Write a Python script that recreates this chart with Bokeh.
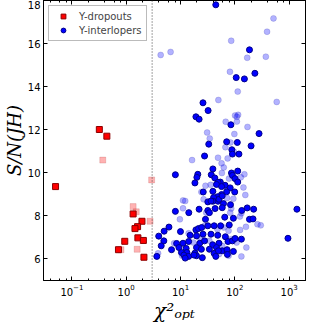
from bokeh.plotting import figure
from bokeh.models import (LinearAxis, LogAxis, FixedTicker, LogTicker, Span,
                          CustomJSTickFormatter)
from bokeh.embed import file_html
from bokeh.resources import INLINE

# ---- data -------------------------------------------------------------
y_ticks = [6, 8, 10, 12, 14, 16, 18]

drop_chi2 = [0.32, 0.44, 0.050, 1.34, 1.95, 1.62, 1.45, 1.64, 2.07, 0.94, 0.72, 2.12]
drop_sn = [12.01, 11.70, 9.36, 8.09, 7.75, 7.50, 7.41, 6.98, 6.86, 6.82, 6.43, 6.08]

drop_faint_chi2 = [0.37, 2.94, 1.34, 1.53, 2.75, 0.80, 1.59]
drop_faint_sn = [10.59, 9.67, 8.43, 8.19, 7.75, 6.43, 6.45]

inter_chi2 = [
    44.6, 186, 234, 106, 150, 25.9, 32.2,
    19.2, 22.0, 84.6, 279, 70.7, 111, 33.1, 199, 88.1, 90.3, 119, 27.7, 8.04,
    39.4, 113, 20.8, 20.0, 36.8, 86.7, 90.3, 101, 42.8, 54.0, 49.0, 45.9, 18.4,
    66.2, 113, 57.0, 82.2, 26.2, 70.7, 99.5, 39.4,
    57.0, 48.4, 40.6, 31.8, 49.0, 83.2, 61.8, 39.4, 134, 169, 222, 1390, 8.04,
    14.2, 22.0, 31.8, 43.3, 34.0, 58.6, 36.4, 51.0, 58.6, 28.8, 65.2, 94.0, 186,
    216, 78.9, 6.12, 4.99, 9.98, 19.2, 21.4, 24.5, 31.8, 41.6, 54.7, 15.0, 19.7,
    25.9, 36.4, 48.4, 67.0, 3.97, 4.93, 8.48, 11.1, 14.1, 22.6, 27.7, 39.0, 51.0,
    74.8, 90.3, 101, 132, 4.41, 6.83, 9.35, 12.7, 19.7, 24.2, 34.0, 45.9, 58.6,
    71.9, 94.0, 10.4, 13.1, 18.4, 41.6, 49.8, 11.5, 14.1, 19.7, 25.2, 44.6, 3.66,
    12.2, 951, 17.7, 72.8,
]
inter_sn = [
    17.80, 15.71, 14.62, 14.42, 14.36, 13.25, 12.89,
    12.60, 12.49, 12.23, 11.82, 11.44, 11.41, 11.33, 11.25, 11.07, 10.87, 10.87, 10.78, 9.91,
    10.18, 10.08, 9.93, 9.79, 9.91, 9.99, 9.88, 9.73, 9.76, 9.57, 9.56, 9.46, 9.53,
    9.42, 9.57, 9.36, 9.30, 9.11, 9.12, 9.11, 9.14,
    8.99, 8.89, 8.85, 8.65, 8.68, 8.52, 8.57, 8.68, 8.25, 8.37, 8.31, 8.31, 8.21,
    8.15, 8.31, 8.25, 8.34, 8.15, 8.38, 8.69, 8.77, 8.93, 7.84, 7.94, 7.89, 7.84,
    7.86, 7.58, 7.48, 7.29, 7.27, 7.35, 7.41, 7.46, 7.54, 7.54, 7.54, 7.10, 7.07,
    7.15, 7.15, 7.10, 7.03, 7.06, 6.84, 6.72, 6.73, 6.81, 6.73, 6.84, 6.66, 6.73,
    6.81, 6.84, 6.95, 6.92, 6.61, 6.43, 6.53, 6.49, 6.53, 6.45, 6.45, 6.53, 6.38,
    6.43, 6.35, 6.30, 6.30, 6.27, 6.26, 6.38, 6.18, 6.12, 6.15, 6.06, 6.12, 6.12,
    6.04, 6.96, 6.18, 6.21,
]

inter_faint_chi2 = [
    515, 392, 85.7, 4.31, 6.56, 169, 372, 81.2, 113, 49.8, 590,
    101, 115, 109, 67.9, 109, 171, 30.9, 34.5, 98.0, 67.0, 83.2, 95.6, 49.0,
    73.7, 16.3, 57.0, 62.5, 57.7, 150, 129, 78.0, 35.9, 28.8, 144, 24.2,
    156, 11.1, 71.9, 26.6, 11.1, 85.7, 94.0, 9.73, 14.1, 7.62, 3.86, 10.7, 132,
    163, 261, 300, 124, 132, 29.7, 62.5, 85.7, 51.0, 76.7, 22.6, 34.0, 17.3,
    58.6, 108, 47.8, 27.7, 76.7, 160, 125, 82.2, 12.2,
]
inter_faint_sn = [
    17.17, 16.55, 16.13, 15.47, 15.61, 15.34, 15.39, 14.69, 13.77, 13.38, 13.29,
    12.66, 12.69, 12.60, 12.37, 12.38, 12.13, 11.87, 11.59, 11.80, 11.19, 11.41, 10.99, 10.70,
    10.67, 10.59, 10.44, 10.25, 9.99, 9.93, 9.79, 9.73, 9.44, 9.40, 9.32, 9.11,
    8.97, 8.72, 8.83, 8.77, 8.35, 8.34, 8.80, 7.84, 7.19, 6.73, 6.26, 6.15, 6.12,
    6.53, 7.61, 7.56, 7.97, 8.12, 8.15, 7.46, 6.92, 6.22, 6.15, 7.00, 6.84, 6.76,
    6.61, 6.76, 7.38, 7.54, 7.31, 7.49, 7.35, 8.15, 8.69,
]

cut_chi2 = 3.0

# ---- figure -----------------------------------------------------------
p = figure(width=308, height=325, x_axis_type="log",
           x_range=(0.03, 2000), y_range=(5, 18),
           output_backend="svg", toolbar_location=None,
           min_border_left=0, min_border_right=3,
           min_border_top=0, min_border_bottom=45)
p.background_fill_color = "white"
p.border_fill_color = "white"
p.outline_line_color = "black"
p.xgrid.grid_line_color = None
p.ygrid.grid_line_color = None

tick_font = "DejaVu Sans"

xa = p.xaxis[0]
xa.ticker = LogTicker()
xa.axis_label = "χ²ₒₚₜ"
xa.axis_label_text_font = "DejaVu Serif"
xa.axis_label_text_font_style = "italic"
xa.axis_label_text_font_size = "20px"
xa.axis_label_standoff = 0
xa.major_label_standoff = 3
ya = p.yaxis[0]
ya.ticker = FixedTicker(ticks=y_ticks)
ya.minor_tick_line_color = None
ya.axis_label = "S/N(JH)"
ya.axis_label_text_font = "DejaVu Serif"
ya.axis_label_text_font_style = "italic"
ya.axis_label_text_font_size = "18px"
ya.axis_label_standoff = 0
ya.major_label_standoff = 3

for ax in (xa, ya):
    ax.major_label_text_font = tick_font
    ax.major_label_text_font_size = "10px"
    ax.major_label_text_color = "black"
    ax.axis_label_text_color = "black"
    ax.major_tick_in = 4
    ax.major_tick_out = 0
    ax.minor_tick_in = 2
    ax.minor_tick_out = 0
    ax.axis_line_color = "black"
    ax.major_tick_line_color = "black"

right = LinearAxis(ticker=FixedTicker(ticks=y_ticks),
                   formatter=CustomJSTickFormatter(code="return ''"),
                   major_label_text_font_size="1px",
                   major_label_standoff=0, major_tick_in=4, major_tick_out=0,
                   minor_tick_line_color=None, axis_line_color="black")
p.add_layout(right, "right")
top = LogAxis(ticker=LogTicker(), formatter=CustomJSTickFormatter(code="return ''"),
              major_label_text_font_size="1px",
              major_label_standoff=0, major_tick_in=4, major_tick_out=0,
              minor_tick_in=2, minor_tick_out=0, axis_line_color="black")
p.add_layout(top, "above")

p.add_layout(Span(location=cut_chi2, dimension="height", line_color="#444444",
                  line_dash="1 2", line_width=1))

# faint points first
p.scatter(drop_faint_chi2, drop_faint_sn, marker="square", size=6,
          fill_color="red", line_color="#8b0000", fill_alpha=0.3, line_alpha=0.15)
p.scatter(inter_faint_chi2, inter_faint_sn, marker="circle", size=6,
          fill_color="blue", line_color="#00008b", fill_alpha=0.3, line_alpha=0.15)
p.scatter(drop_chi2, drop_sn, marker="square", size=6,
          fill_color="red", line_color="#8b0000", legend_label="Y-dropouts")
p.scatter(inter_chi2, inter_sn, marker="circle", size=6,
          fill_color="blue", line_color="#00008b", legend_label="Y-interlopers")

lg = p.legend[0]
lg.location = "top_left"
lg.margin = 5
lg.padding = 4
lg.spacing = 2
lg.glyph_width = 20
lg.glyph_height = 12
lg.label_height = 12
lg.label_standoff = 6
lg.label_text_font = tick_font
lg.label_text_font_size = "10px"
lg.border_line_color = "#777777"
lg.border_line_width = 1
lg.background_fill_alpha = 1

open("out.html", "w").write(file_html(p, INLINE))
